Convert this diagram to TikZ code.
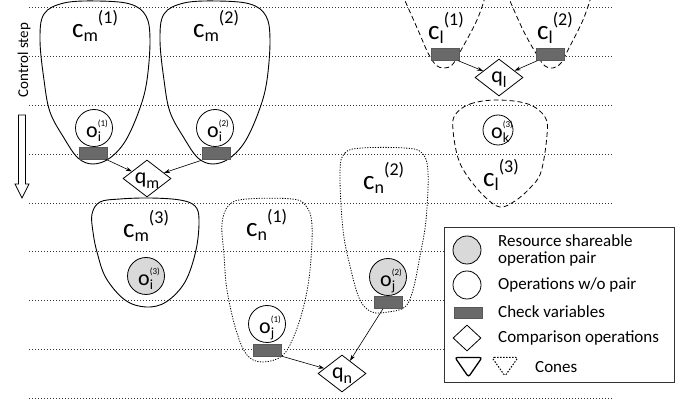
\documentclass[tikz,border=0pt]{standalone}
\usepackage{fontspec}
\setmainfont{Carlito}
\usetikzlibrary{shapes.geometric,arrows.meta,calc}
\definecolor{lgray}{RGB}{217,217,217}
\definecolor{dgray}{RGB}{105,105,105}
\newcommand\conelab[2]{{\fontsize{27}{27}\selectfont c}{\fontsize{18}{18}\selectfont\raisebox{-4pt}{#1}\raisebox{14pt}{(#2)}}}
\newcommand\oplab[2]{{\fontsize{22}{22}\selectfont o}\rlap{\fontsize{14}{14}\selectfont\raisebox{-4pt}{#1}}{\fontsize{9}{9}\selectfont\raisebox{11pt}{(#2)}}}
\newcommand\qlab[1]{{\fontsize{22}{22}\selectfont q}{\fontsize{16}{16}\selectfont\raisebox{-5pt}{#1}}}
\begin{document}
\begin{tikzpicture}[x=1pt,y=-1pt,
  gridline/.style={line width=0.7pt, dash pattern=on 1pt off 2pt, black!80},
  conesolid/.style={line width=0.9pt},
  conedot/.style={line width=0.8pt, dash pattern=on 1.2pt off 1.4pt},
  conedash/.style={line width=0.8pt, dash pattern=on 5pt off 3pt},
  opw/.style={circle, draw, fill=white, minimum size=37pt, inner sep=0pt, line width=0.8pt},
  opg/.style={opw, fill=lgray},
  chk/.style={rectangle, fill=dgray, draw=dgray!85!black, line width=0.4pt, minimum width=28pt, minimum height=12pt, inner sep=0pt},
  cmp/.style={diamond, draw, fill=white, minimum width=48pt, minimum height=37pt, inner sep=0pt, line width=0.8pt},
  conn/.style={-{Stealth[length=6pt,width=4pt]}, line width=0.6pt},
  lbl/.style={inner sep=0pt, anchor=base west},
  legtxt/.style={inner sep=0pt, anchor=base west, font=\fontsize{17}{18}\selectfont},
]
\useasboundingbox (0,0) rectangle (694,403);
\clip (0,0) rectangle (694,403);
\fill[white] (0,0) rectangle (694,403);
% grid lines
\foreach \yy in {7,56,105,154,203,251.5,300.5,349,398}
  \draw[gridline] (29,\yy) -- (612,\yy);
% control step
\node[rotate=90, anchor=base, inner sep=0pt, font=\fontsize{15}{15}\selectfont] (cs) at (28,60) {Control step};
\draw[line width=0.7pt, fill=white] (18.5,115) -- (25.5,115) -- (25.5,184) -- (29,184) -- (22,198) -- (15,184) -- (18.5,184) -- cycle;
% cones m
\draw[conesolid] plot[smooth cycle, tension=0.6] coordinates {(97,1) (130,4) (146,16) (150,40) (147,80) (140,108) (126,140) (110,158) (93,164) (78,158) (64,138) (50,112) (44,80) (40,40) (44,14) (64,3)};
\draw[conesolid, xshift=120pt] plot[smooth cycle, tension=0.6] coordinates {(97,1) (130,4) (146,16) (150,40) (147,80) (140,108) (126,140) (110,158) (93,164) (78,158) (64,138) (50,112) (44,80) (40,40) (44,14) (64,3)};
\draw[conesolid] plot[smooth cycle, tension=0.6] coordinates {(92,214) (100,202) (120,199) (150,198) (180,200) (195,206) (199,220) (196,250) (185,282) (166,302) (146,307) (125,300) (106,278) (97,252) (93,232)};
% cones n
\draw[conedot] plot[smooth cycle, tension=0.6] coordinates {(222,224) (229,205) (247,199) (292,199) (306,206) (312,225) (310,270) (304,305) (294,336) (282,356) (262,362) (247,355) (236,330) (227,290) (224,255)};
\draw[conedot] plot[smooth cycle, tension=0.6] coordinates {(340,172) (345,153) (362,148) (405,148) (422,153) (428,172) (426,220) (420,256) (413,290) (405,307) (388,312) (372,312) (360,300) (351,270) (343,230)};
% cones l
\draw[conedash] plot[smooth, tension=0.6] coordinates {(402,-6) (418,30) (428,53) (436,65) (444,68) (452,65) (460,52) (477,20) (486,-6)};
\draw[conedash] plot[smooth, tension=0.6] coordinates {(507,-6) (523,30) (537,55) (545,66) (553,68) (561,63) (568,50) (583,20) (592,-6)};
\draw[conedash] plot[smooth cycle, tension=0.6] coordinates {(455,115) (470,104) (497,100) (528,104) (545,117) (547,135) (541,172) (530,188) (515,201) (500,207) (485,197) (468,177) (458,158) (453,130)};
% operations
\node[opw] (oi1) at (94,128) {};
\node[opw] (oi2) at (215,128) {};
\node[opg] (oi3) at (146,276) {};
\node[opw] (oj1) at (267,324) {};
\node[opg] (oj2) at (388,277) {};
\node[opw, minimum size=30pt] (ok3) at (498,130) {};
\node[lbl] (toi1) at ($(oi1.center)+(-8,10)$) {\oplab{i}{1}};
\node[lbl] (toi2) at ($(oi2.center)+(-8,10)$) {\oplab{i}{2}};
\node[lbl] (toi3) at ($(oi3.center)+(-8,10)$) {\oplab{i}{3}};
\node[lbl] (toj1) at ($(oj1.center)+(-8,10)$) {\oplab{j}{1}};
\node[lbl] (toj2) at ($(oj2.center)+(-8,10)$) {\oplab{j}{2}};
\node[lbl] (tok3) at ($(ok3.center)+(-7,9)$) {\oplab{k}{3}};
% check variables
\node[chk] (rm1) at (93.5,153) {};
\node[chk] (rm2) at (216,153) {};
\node[chk] (rn1) at (267.5,350) {};
\node[chk] (rn2) at (388,302.5) {};
\node[chk] (rl1) at (445,54.5) {};
\node[chk] (rl2) at (550.5,54.5) {};
% comparisons
\node[cmp] (qm) at (147,178.5) {};
\node[cmp] (ql) at (499,77.5) {};
\node[cmp] (qn) at (342,373.5) {};
\node[inner sep=0pt, anchor=base] (tqm) at ($(qm.center)+(0,5.5)$) {\qlab{m}};
\node[inner sep=0pt, anchor=base] (tql) at ($(ql.center)+(0,5.5)$) {\qlab{l}};
\node[inner sep=0pt, anchor=base] (tqn) at ($(qn.center)+(0,5.5)$) {\qlab{n}};
% connectors
\draw[conn] ($(rm1.south east)+(-2,0)$) -- (qm);
\draw[conn] ($(rm2.south west)+(0,1)$) -- (qm);
\draw[conn] ($(rl1.south east)+(-1,0)$) -- (ql);
\draw[conn] ($(rl2.south west)+(1,0)$) -- (ql);
\draw[conn] (rn1.south east) -- (qn);
\draw[conn] ($(rn2.south)+(-5,0)$) -- (qn);
% cone labels
\node[lbl] (lcm1) at (72,38) {\conelab{m}{1}};
\node[lbl] (lcm2) at (193,38) {\conelab{m}{2}};
\node[lbl] (lcm3) at (123,238) {\conelab{m}{3}};
\node[lbl] (lcn1) at (246,237) {\conelab{n}{1}};
\node[lbl] (lcn2) at (363,190) {\conelab{n}{2}};
\node[lbl] (lcl1) at (428,40) {\conelab{l}{1}};
\node[lbl] (lcl2) at (537,40) {\conelab{l}{2}};
\node[lbl] (lcl3) at (483,187) {\conelab{l}{3}};
% legend
\node[draw=black!80, line width=1pt, fill=white, minimum width=230pt, minimum height=155pt, inner sep=0pt] (leg) at (559,305.5) {};
\node[circle, draw, fill=lgray, minimum size=28pt, inner sep=0pt, line width=0.8pt] (lg1) at (467,250) {};
\node[circle, draw, fill=white, minimum size=28pt, inner sep=0pt, line width=0.8pt] (lg2) at (467,285) {};
\node[chk, minimum height=11pt] (lg3) at (468,312.5) {};
\node[diamond, draw, fill=white, minimum width=28pt, minimum height=26pt, inner sep=0pt, line width=0.8pt] (lg4) at (467,338) {};
\draw[line width=1.3pt, rounded corners=2.5pt] (455,357.5) -- (482,357.5) -- (468.5,377) -- cycle;
\draw[line width=1pt, dash pattern=on 1.5pt off 1.5pt, rounded corners=2pt] (492,357.5) -- (518,357.5) -- (505,376) -- cycle;
\node[legtxt] (lt1) at (498,247) {Resource shareable};
\node[legtxt] (lt1b) at (498,264) {operation pair};
\node[legtxt] (lt2) at (498,290) {Operations w/o pair};
\node[legtxt] (lt3) at (498,318) {Check variables};
\node[legtxt] (lt4) at (498,343) {Comparison operations};
\node[legtxt] (lt5) at (535,373) {Cones};
\end{tikzpicture}
\end{document}
